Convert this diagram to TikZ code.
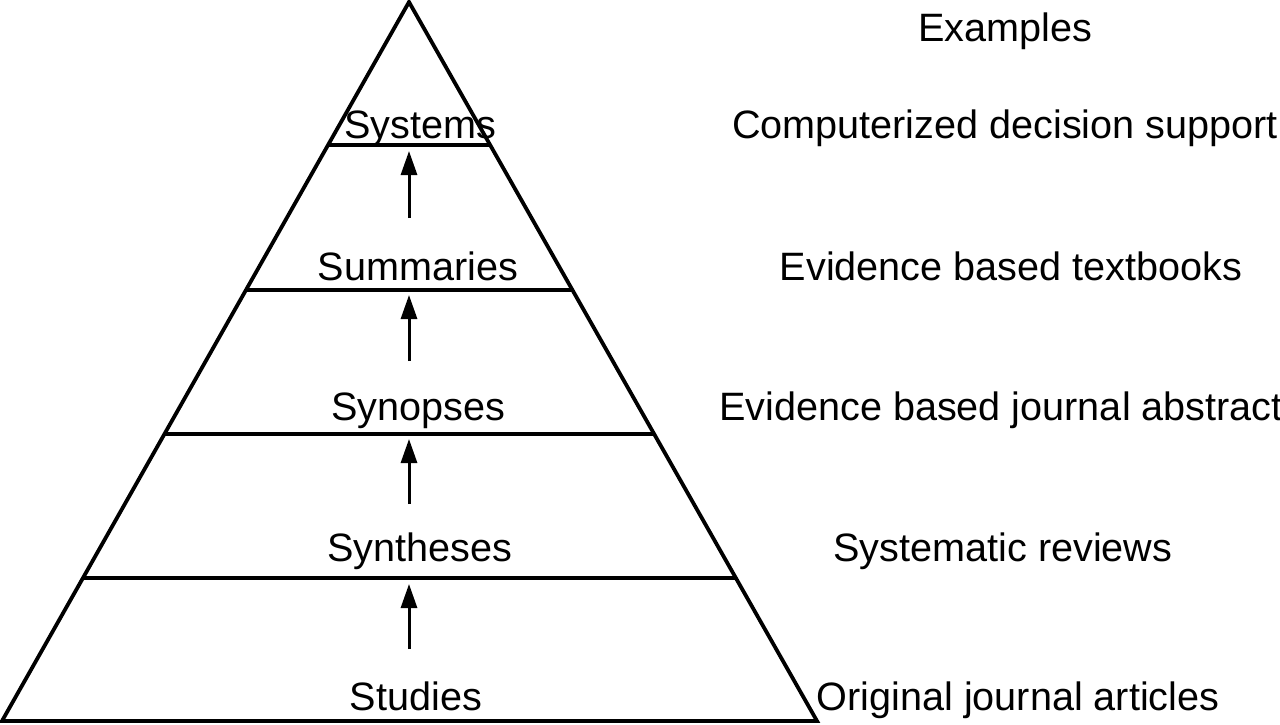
\documentclass[tikz,border=0pt]{standalone}
\usepackage{fontspec}
\setmainfont{Liberation Sans}
\usetikzlibrary{arrows.meta}
\begin{document}
\begin{tikzpicture}[x=0.5pt,y=-0.5pt,
  edge/.style={line width=1.9pt, line join=miter},
  lvl/.style={line width=1.7pt},
  uparrow/.style={line width=1.5pt, -{Triangle[length=12pt,width=8pt]}},
  lbl/.style={anchor=base, inner sep=0pt, font=\fontsize{19.8}{23}\selectfont},
  ex/.style={anchor=base, inner sep=0pt, font=\fontsize{19.8}{23}\selectfont}]
\useasboundingbox (0,0) rectangle (1280,724);
% pyramid
\coordinate (apex) at (409,2);
\coordinate (bl) at (2,721);
\coordinate (br) at (817,721);
\draw[edge] (apex) -- (bl) -- (br) -- cycle;
% level lines
\coordinate (l1a) at (329,145); \coordinate (l1b) at (491,145);
\coordinate (l2a) at (246,290); \coordinate (l2b) at (573,290);
\coordinate (l3a) at (165,434); \coordinate (l3b) at (655,434);
\coordinate (l4a) at (84,578);  \coordinate (l4b) at (737,578);
\draw[lvl] (l1a) -- (l1b);
\draw[lvl] (l2a) -- (l2b);
\draw[lvl] (l3a) -- (l3b);
\draw[lvl] (l4a) -- (l4b);
% arrows
\coordinate (a1s) at (409,218); \coordinate (a1e) at (409,151);
\coordinate (a2s) at (409,361); \coordinate (a2e) at (409,295);
\coordinate (a3s) at (409,504); \coordinate (a3e) at (409,439);
\coordinate (a4s) at (409,649); \coordinate (a4e) at (409,584);
\draw[uparrow] (a1s) -- (a1e);
\draw[uparrow] (a2s) -- (a2e);
\draw[uparrow] (a3s) -- (a3e);
\draw[uparrow] (a4s) -- (a4e);
% level labels
\node[lbl] (systems) at (420,138) {Systems};
\node[lbl] (summaries) at (418,280) {Summaries};
\node[lbl] (synopses) at (418,420) {Synopses};
\node[lbl] (syntheses) at (420,561) {Syntheses};
\node[lbl] (studies) at (416,710) {Studies};
% examples
\node[ex] (examples) at (1005,41) {Examples};
\node[ex] (cds) at (1005,138) {Computerized decision support};
\node[ex] (ebt) at (1011,280) {Evidence based textbooks};
\node[ex] (ebja) at (1001,420) {Evidence based journal abstract};
\node[ex] (sr) at (1003,561) {Systematic reviews};
\node[ex] (oja) at (1018,710) {Original journal articles};
\end{tikzpicture}
\end{document}
